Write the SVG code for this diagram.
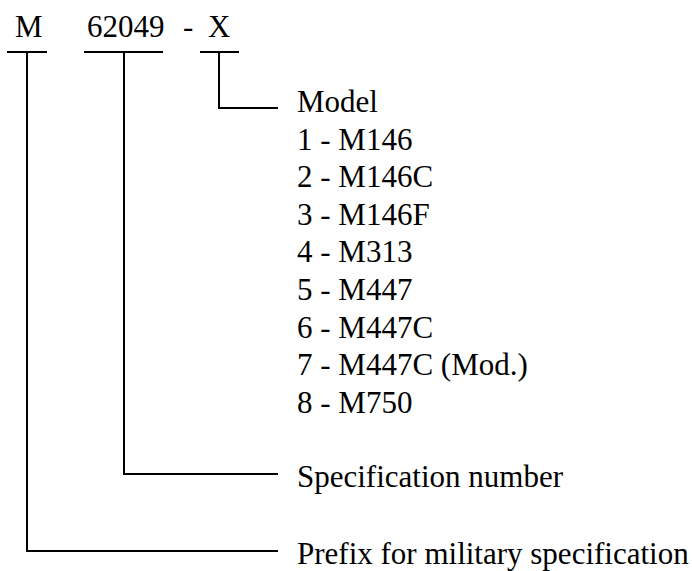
<svg xmlns="http://www.w3.org/2000/svg" width="692" height="571" viewBox="0 0 692 571">
<style>
text{font-family:"Liberation Serif","Times New Roman",serif;font-size:31px;fill:#000}
.c{fill:none;stroke:#000;stroke-width:2}
</style>
<rect width="692" height="571" fill="#fff"/>
<g id="code">
<text x="15" y="37">M</text>
<text x="87" y="37">62049</text>
<text x="183" y="37">-</text>
<text x="208" y="37">X</text>
</g>
<g id="connectors">
<path class="c" d="M7 52H47M27 52V551H278"/>
<path class="c" d="M84 52H163M124 52V474H278"/>
<path class="c" d="M200 52H239M219 52V108H278"/>
</g>
<g id="model">
<text x="297" y="112">Model</text>
<text x="297" y="149.6">1 - M146</text>
<text x="297" y="187.2">2 - M146C</text>
<text x="297" y="224.8">3 - M146F</text>
<text x="297" y="262.4">4 - M313</text>
<text x="297" y="300">5 - M447</text>
<text x="297" y="337.6">6 - M447C</text>
<text x="297" y="375.2">7 - M447C (Mod.)</text>
<text x="297" y="412.8">8 - M750</text>
</g>
<g id="spec"><text x="297" y="487">Specification number</text></g>
<g id="prefix"><text x="297" y="564">Prefix for military specification</text></g>
</svg>
